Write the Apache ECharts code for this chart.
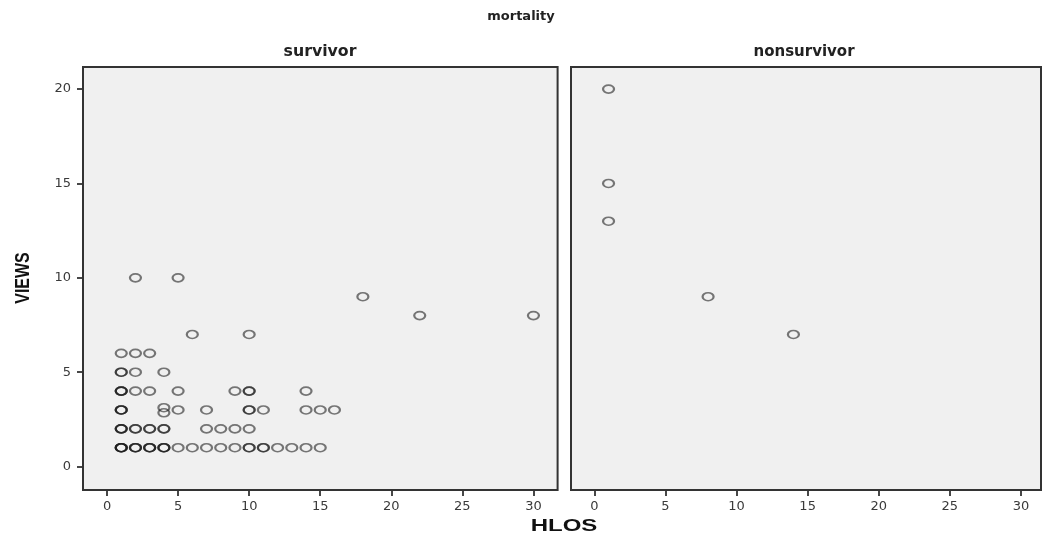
<!DOCTYPE html>
<html>
<head>
<meta charset="utf-8">
<script src="https://cdn.jsdelivr.net/npm/echarts@6/dist/echarts.min.js"></script>
<style>html,body{margin:0;padding:0;background:#fff;}#c{width:1043px;height:537px;}</style>
</head>
<body>
<div id="c"></div>
<script>
// Survivor panel (duplicates = overlapping points rendered darker)
const survivorHLOS = [
  1,1,1,1, 2,2,2, 3,3,3, 4,4,4, 5,6,7,8,9, 10,10, 11,11, 12,13,14,15,
  1,1,1, 2,2, 3,3, 4,4, 7,8,9,10,
  1,1,1, 4,4, 5,7, 10,10, 11,14,15,16,
  1,1,1, 2,3,5,9, 10,10, 14,
  1,1, 2,4,
  1,2,3,
  6,10,
  22,30,
  18,
  2,5
];
const survivorVIEWS = [
  1,1,1,1, 1,1,1, 1,1,1, 1,1,1, 1,1,1,1,1, 1,1, 1,1, 1,1,1,1,
  2,2,2, 2,2, 2,2, 2,2, 2,2,2,2,
  3,3,3, 3.12,2.85, 3,3, 3,3, 3,3,3,3,
  4,4,4, 4,4,4,4, 4,4, 4,
  5,5, 5,5,
  6,6,6,
  7,7,
  8,8,
  9,
  10,10
];
// Nonsurvivor panel
const nonsurvivorHLOS = [1, 1, 1, 8, 14];
const nonsurvivorVIEWS = [20, 15, 13, 9, 7];

const xTicks = [0, 5, 10, 15, 20, 25, 30];
const yTicks = [0, 5, 10, 15, 20];
const panelTitles = ['survivor', 'nonsurvivor'];

const survivorData = survivorHLOS.map((x, i) => [x, survivorVIEWS[i]]);
const nonsurvivorData = nonsurvivorHLOS.map((x, i) => [x, nonsurvivorVIEWS[i]]);

const chart = echarts.init(document.getElementById('c'), null, {renderer: 'canvas'});

const labelStyle = {fontFamily: 'DejaVu Sans', fontSize: 13, color: '#3a3a3a'};
function xAxisCfg(idx, min, max) {
  return {
    type: 'value', gridIndex: idx, min: min, max: max, position: 'bottom',
    axisLine: {show: false, onZero: false},
    splitLine: {show: false},
    axisTick: {show: true, inside: false, length: 6, lineStyle: {color: '#333', width: 1.8}, customValues: xTicks},
    axisLabel: Object.assign({margin: 10, customValues: xTicks}, labelStyle)
  };
}
function yAxisCfg(idx, showLabels) {
  return {
    type: 'value', gridIndex: idx, min: -1.24, max: 21.17, position: 'left',
    axisLine: {show: false, onZero: false},
    splitLine: {show: false},
    axisTick: {show: showLabels, inside: false, length: 6, lineStyle: {color: '#333', width: 1.8}, customValues: yTicks},
    axisLabel: Object.assign({show: showLabels, margin: 12, customValues: yTicks}, labelStyle)
  };
}
const gridStyle = {show: true, backgroundColor: '#f0f0f0', borderColor: '#333333', borderWidth: 2};
const markStyle = {color: 'rgba(0,0,0,0)', borderColor: 'rgba(25,25,25,0.72)', borderWidth: 1.9};

chart.setOption({
  animation: false,
  backgroundColor: '#ffffff',
  grid: [
    Object.assign({left: 83, top: 67, width: 474.6, height: 423}, gridStyle),
    Object.assign({left: 571, top: 67, width: 470, height: 423}, gridStyle)
  ],
  xAxis: [xAxisCfg(0, -1.69, 31.7), xAxisCfg(1, -1.64, 31.41)],
  yAxis: [yAxisCfg(0, true), yAxisCfg(1, false)],
  series: [
    {type: 'scatter', xAxisIndex: 0, yAxisIndex: 0, data: survivorData, symbol: 'circle', symbolSize: [11, 8], itemStyle: markStyle, emphasis: {disabled: true}},
    {type: 'scatter', xAxisIndex: 1, yAxisIndex: 1, data: nonsurvivorData, symbol: 'circle', symbolSize: [11, 8], itemStyle: markStyle, emphasis: {disabled: true}}
  ],
  graphic: [
    {type: 'text', x: 521, y: 17, style: {text: 'mortality', font: 'bold 13px "DejaVu Sans"', fill: '#222', align: 'center', verticalAlign: 'middle'}},
    {type: 'text', x: 320, y: 52, style: {text: panelTitles[0], font: 'bold 15px "DejaVu Sans"', fill: '#222', align: 'center', verticalAlign: 'middle'}, scaleX: 1.05},
    {type: 'text', x: 804, y: 52, style: {text: panelTitles[1], font: 'bold 15px "DejaVu Sans"', fill: '#222', align: 'center', verticalAlign: 'middle'}},
    {type: 'text', x: 564, y: 527, style: {text: 'HLOS', font: 'bold 16px "Liberation Sans"', fill: '#111', align: 'center', verticalAlign: 'middle'}, scaleX: 1.5},
    {type: 'text', x: 23, y: 278, rotation: Math.PI / 2, style: {text: 'VIEWS', font: 'bold 16px "Liberation Sans Narrow", "Liberation Sans"', fill: '#111', align: 'center', verticalAlign: 'middle'}, scaleY: 1.3}
  ]
});
</script>
</body>
</html>
